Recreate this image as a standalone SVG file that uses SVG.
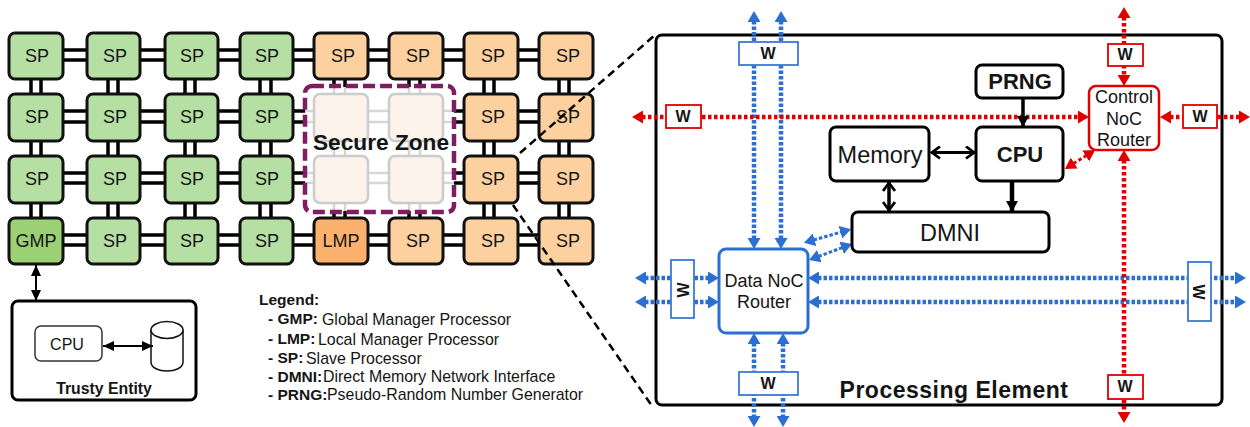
<svg xmlns="http://www.w3.org/2000/svg" width="1250" height="427" viewBox="0 0 1250 427">
<style>
text{font-family:"Liberation Sans",Arial,sans-serif;fill:#151515;text-anchor:middle}
.b{font-weight:bold}
.n{stroke:#111;stroke-width:3;}
.g{fill:#b6dfa4}.o{fill:#fdd0a0}.z{fill:#fdf3ea;stroke:#ccc;stroke-width:2.5}
.sp{font-size:18px}
.k{stroke:#000;stroke-width:3.5;fill:none}
.f{stroke:#d6d6d6;stroke-width:2.5;fill:none}
.box{fill:#fff;stroke:#000;stroke-width:3}
.bw{fill:#fff;stroke:#3b7ad0;stroke-width:1.8}
.rw{fill:#fff;stroke:#e00000;stroke-width:1.8}
.w{font-size:16px;font-weight:bold}
.bl{stroke:#2b6fd2;stroke-width:4.5;stroke-dasharray:3.5 2;fill:none;marker-start:url(#mb);marker-end:url(#mb)}
.rd{stroke:#e00000;stroke-width:4.5;stroke-dasharray:3.5 2.5;fill:none;marker-start:url(#mr);marker-end:url(#mr)}
.blk{stroke:#000;stroke-width:3;fill:none}
.dash{stroke:#000;stroke-width:2.5;stroke-dasharray:8 5;fill:none}
.leg{font-size:15.9px;text-anchor:start}
.lb{font-size:15.5px;text-anchor:start;font-weight:bold}
</style>
<defs>
<marker id="mb" markerUnits="userSpaceOnUse" markerWidth="13" markerHeight="13" refX="1" refY="6.5" orient="auto-start-reverse"><path d="M0 0L11 6.5L0 13z" fill="#2b6fd2"/></marker>
<marker id="mr" markerUnits="userSpaceOnUse" markerWidth="13" markerHeight="13" refX="1" refY="6.5" orient="auto-start-reverse"><path d="M0 0L11 6.5L0 13z" fill="#e00000"/></marker>
<marker id="mk" markerUnits="userSpaceOnUse" markerWidth="14" markerHeight="14" refX="12" refY="7" orient="auto-start-reverse"><path d="M3 1L11 7L3 13" fill="none" stroke="#000" stroke-width="2.8"/></marker>
<marker id="ms" markerUnits="userSpaceOnUse" markerWidth="12" markerHeight="12" refX="11" refY="6" orient="auto-start-reverse"><path d="M0 1L11 6L0 11z" fill="#000"/></marker>
<marker id="md" markerUnits="userSpaceOnUse" markerWidth="14" markerHeight="14" refX="12" refY="7" orient="auto"><path d="M1 1L12 7L1 13z" fill="#000"/></marker>
</defs>

<g id="mesh-connectors">
<path class="k" d="M63 50H87M63 60H87M140 50H165M140 60H165M218 50H240M218 60H240M293 50H314M293 60H314M368 50H389M368 60H389M443 50H464M443 60H464M518 50H539M518 60H539"/>
<path class="k" d="M63 111H87M63 122H87M140 111H165M140 122H165M218 111H240M218 122H240M293 111H305M293 122H305M454 111H464M454 122H464M518 111H539M518 122H539"/>
<path class="k" d="M63 173H87M63 183H87M140 173H165M140 183H165M218 173H240M218 183H240M293 173H305M293 183H305M454 173H464M454 183H464M518 173H539M518 183H539"/>
<path class="k" d="M63 235H87M63 245H87M140 235H165M140 245H165M218 235H240M218 245H240M293 235H314M293 245H314M368 235H389M368 245H389M443 235H464M443 245H464M518 235H539M518 245H539"/>
<path class="k" d="M31 79V94M41 79V94M108 79V94M118 79V94M185 79V94M195 79V94M260 79V94M271 79V94M484 79V94M494 79V94M559 79V94M569 79V94"/>
<path class="k" d="M31 141V156M41 141V156M108 141V156M118 141V156M185 141V156M195 141V156M260 141V156M271 141V156M484 141V156M494 141V156M559 141V156M569 141V156"/>
<path class="k" d="M31 203V218M41 203V218M108 203V218M118 203V218M185 203V218M195 203V218M260 203V218M271 203V218M484 203V218M494 203V218M559 203V218M569 203V218"/>
<path class="k" d="M334 79V87M345 79V87M409 79V87M420 79V87M334 211V218M345 211V218M409 211V218M420 211V218"/>
<path class="f" d="M305 111H314M305 122H314M368 111H389M368 122H389M443 111H454M443 122H454M305 173H314M305 183H314M368 173H389M368 183H389M443 173H454M443 183H454M334 87V94M345 87V94M409 87V94M420 87V94M334 141V156M345 141V156M409 141V156M420 141V156M334 203V211M345 203V211M409 203V211M420 203V211"/>
<path d="M36 265V301" fill="none" stroke="#000" stroke-width="2" marker-start="url(#ms)" marker-end="url(#ms)"/>
</g>

<g id="sp-0-0"><rect class="n g" x="9" y="33" width="54" height="46" rx="6"/><text class="sp" x="37" y="62">SP</text></g>
<g id="sp-1-0"><rect class="n g" x="87" y="33" width="53" height="46" rx="6"/><text class="sp" x="115" y="62">SP</text></g>
<g id="sp-2-0"><rect class="n g" x="165" y="33" width="53" height="46" rx="6"/><text class="sp" x="192" y="62">SP</text></g>
<g id="sp-3-0"><rect class="n g" x="240" y="33" width="53" height="46" rx="6"/><text class="sp" x="267" y="62">SP</text></g>
<g id="sp-4-0"><rect class="n o" x="314" y="33" width="54" height="46" rx="6"/><text class="sp" x="343" y="62">SP</text></g>
<g id="sp-5-0"><rect class="n o" x="389" y="33" width="54" height="46" rx="6"/><text class="sp" x="418" y="62">SP</text></g>
<g id="sp-6-0"><rect class="n o" x="464" y="33" width="54" height="46" rx="6"/><text class="sp" x="493" y="62">SP</text></g>
<g id="sp-7-0"><rect class="n o" x="539" y="33" width="54" height="46" rx="6"/><text class="sp" x="568" y="62">SP</text></g>

<g id="sp-0-1"><rect class="n g" x="9" y="94" width="54" height="47" rx="6"/><text class="sp" x="37" y="123">SP</text></g>
<g id="sp-1-1"><rect class="n g" x="87" y="94" width="53" height="47" rx="6"/><text class="sp" x="115" y="123">SP</text></g>
<g id="sp-2-1"><rect class="n g" x="165" y="94" width="53" height="47" rx="6"/><text class="sp" x="192" y="123">SP</text></g>
<g id="sp-3-1"><rect class="n g" x="240" y="94" width="53" height="47" rx="6"/><text class="sp" x="267" y="123">SP</text></g>
<g id="zone-node-0"><rect class="z" x="314" y="94" width="54" height="47" rx="6"/></g>
<g id="zone-node-1"><rect class="z" x="389" y="94" width="54" height="47" rx="6"/></g>
<g id="sp-6-1"><rect class="n o" x="464" y="94" width="54" height="47" rx="6"/><text class="sp" x="493" y="123">SP</text></g>
<g id="sp-7-1"><rect class="n o" x="539" y="94" width="54" height="47" rx="6"/><text class="sp" x="568" y="123">SP</text></g>

<g id="sp-0-2"><rect class="n g" x="9" y="156" width="54" height="47" rx="6"/><text class="sp" x="37" y="185">SP</text></g>
<g id="sp-1-2"><rect class="n g" x="87" y="156" width="53" height="47" rx="6"/><text class="sp" x="115" y="185">SP</text></g>
<g id="sp-2-2"><rect class="n g" x="165" y="156" width="53" height="47" rx="6"/><text class="sp" x="192" y="185">SP</text></g>
<g id="sp-3-2"><rect class="n g" x="240" y="156" width="53" height="47" rx="6"/><text class="sp" x="267" y="185">SP</text></g>
<g id="zone-node-2"><rect class="z" x="314" y="156" width="54" height="47" rx="6"/></g>
<g id="zone-node-3"><rect class="z" x="389" y="156" width="54" height="47" rx="6"/></g>
<g id="sp-6-2"><rect class="n o" x="464" y="156" width="54" height="47" rx="6"/><text class="sp" x="493" y="185">SP</text></g>
<g id="sp-7-2"><rect class="n o" x="539" y="156" width="54" height="47" rx="6"/><text class="sp" x="568" y="185">SP</text></g>

<g id="gmp"><rect class="n" fill="#9bd075" x="9" y="218" width="54" height="46" rx="6"/><text class="sp" x="36" y="247">GMP</text></g>
<g id="sp-1-3"><rect class="n g" x="87" y="218" width="53" height="46" rx="6"/><text class="sp" x="115" y="247">SP</text></g>
<g id="sp-2-3"><rect class="n g" x="165" y="218" width="53" height="46" rx="6"/><text class="sp" x="192" y="247">SP</text></g>
<g id="sp-3-3"><rect class="n g" x="240" y="218" width="53" height="46" rx="6"/><text class="sp" x="267" y="247">SP</text></g>
<g id="lmp"><rect class="n" fill="#fdb16e" x="314" y="218" width="54" height="46" rx="6"/><text class="sp" x="341" y="247">LMP</text></g>
<g id="sp-5-3"><rect class="n o" x="389" y="218" width="54" height="46" rx="6"/><text class="sp" x="418" y="247">SP</text></g>
<g id="sp-6-3"><rect class="n o" x="464" y="218" width="54" height="46" rx="6"/><text class="sp" x="493" y="247">SP</text></g>
<g id="sp-7-3"><rect class="n o" x="539" y="218" width="54" height="46" rx="6"/><text class="sp" x="568" y="247">SP</text></g>

<g id="secure-zone">
<rect x="305" y="86" width="149" height="126" rx="7" fill="none" stroke="#7f1d63" stroke-width="4.5" stroke-dasharray="12 5"/>
<text class="b" x="381" y="150" font-size="22.7px">Secure Zone</text>
</g>

<g id="zoom-lines">
<path class="dash" d="M520 153L655 35"/>
<path class="dash" d="M513 205L652 406"/>
</g>

<g id="trusty-entity">
<rect class="box" x="12" y="301" width="184" height="99" rx="6"/>
<text class="b" x="104" y="394" font-size="15.8px">Trusty Entity</text>
</g>
<g id="trusty-cpu"><rect x="35" y="326" width="67" height="35" rx="6" fill="#fff" stroke="#333" stroke-width="1.5"/><text x="67" y="350" font-size="16px">CPU</text></g>
<g id="trusty-storage"><path d="M151 330V362C151 374 183 374 183 362V330" fill="#fff" stroke="#111" stroke-width="1.5"/><ellipse cx="167" cy="330" rx="16" ry="8.5" fill="#fff" stroke="#111" stroke-width="1.5"/></g>
<g id="trusty-connector"><path d="M103 346H153" fill="none" stroke="#000" stroke-width="2" marker-start="url(#ms)" marker-end="url(#ms)"/></g>

<g id="legend">
<text class="lb" x="259" y="305">Legend:</text>
<text class="lb" x="268" y="324">- GMP:</text><text class="leg" x="322" y="325">Global Manager Processor</text>
<text class="lb" x="268" y="344">- LMP:</text><text class="leg" x="318" y="345">Local Manager Processor</text>
<text class="lb" x="268" y="363">- SP:</text><text class="leg" x="306" y="364">Slave Processor</text>
<text class="lb" x="268" y="382">- DMNI:</text><text class="leg" x="323" y="382">Direct Memory Network Interface</text>
<text class="lb" x="268" y="400">- PRNG:</text><text class="leg" x="327" y="400">Pseudo-Random Number Generator</text>
</g>

<g id="processing-element">
<rect class="box" x="656" y="35" width="566" height="370" rx="6"/>
<text class="b" x="954" y="398" font-size="23px" letter-spacing=".5">Processing Element</text>
</g>

<g id="connectors">
<path class="bl" d="M754 21V239"/><path class="bl" d="M781 21V239"/>
<path class="bl" d="M754 343V417"/><path class="bl" d="M783 343V417"/>
<path class="bl" d="M645 278H709"/><path class="bl" d="M645 302H709"/>
<path class="bl" d="M818 278H1236"/><path class="bl" d="M818 302H1236"/>
<path class="bl" style="stroke-width:3" d="M813.6 240L841.4 232"/><path class="bl" style="stroke-width:3" d="M818.4 256.5L842.6 247.5"/>
<path class="rd" d="M642 117H1079"/><path class="rd" d="M1170 117H1240"/>
<path class="rd" d="M1124 17V76"/><path class="rd" d="M1124 160V413"/>
<path class="rd" style="stroke-width:3" d="M1073.4 163.6L1086.6 155.4"/>
<path class="blk" style="stroke-width:3.5" d="M1023 98V127" marker-end="url(#md)"/>
<path class="blk" style="stroke-width:4.5" d="M1012 181V212" marker-end="url(#md)"/>
<path class="blk" d="M931 152.5H975" marker-start="url(#mk)" marker-end="url(#mk)"/>
<path class="blk" style="stroke-width:3.5" d="M889 182V211" marker-start="url(#mk)" marker-end="url(#mk)"/>
</g>

<g id="memory"><rect class="box" x="830" y="127" width="99" height="54" rx="6"/><text x="880" y="163" font-size="23.5px">Memory</text></g>
<g id="prng"><rect class="box" x="976" y="65" width="87" height="33" rx="6"/><text class="b" x="1020" y="89" font-size="22px">PRNG</text></g>
<g id="cpu"><rect class="box" x="976" y="127" width="87" height="54" rx="6"/><text class="b" x="1020" y="162" font-size="22px">CPU</text></g>
<g id="dmni"><rect class="box" x="852" y="212" width="197" height="40" rx="6"/><text x="950" y="241" font-size="23.5px">DMNI</text></g>
<g id="control-router"><rect x="1089" y="86" width="70" height="64" rx="7" fill="#fff" stroke="#e00000" stroke-width="2.5"/><text x="1124" y="103" font-size="18px">Control</text><text x="1124" y="125" font-size="18px">NoC</text><text x="1124" y="146" font-size="18px">Router</text></g>
<g id="data-router"><rect x="719" y="249" width="89" height="84" rx="7" fill="#fff" stroke="#2b6fd2" stroke-width="3"/><text x="764" y="287" font-size="18px">Data NoC</text><text x="764" y="308" font-size="18px">Router</text></g>

<g id="w-data-top"><rect class="bw" x="739" y="42" width="59" height="23"/><text class="w" x="768" y="59">W</text></g>
<g id="w-data-bottom"><rect class="bw" x="739" y="372" width="59" height="23"/><text class="w" x="768" y="389">W</text></g>
<g id="w-data-left"><rect class="bw" x="671" y="260" width="23" height="58"/><text class="w" transform="translate(689 290) rotate(-90)" x="0" y="0">W</text></g>
<g id="w-data-right"><rect class="bw" x="1188" y="262" width="23" height="59"/><text class="w" transform="translate(1193 292) rotate(90)" x="0" y="0">W</text></g>
<g id="w-ctrl-left"><rect class="rw" x="666" y="105" width="35" height="23"/><text class="w" x="683" y="122">W</text></g>
<g id="w-ctrl-right"><rect class="rw" x="1183" y="105" width="34" height="23"/><text class="w" x="1200" y="122">W</text></g>
<g id="w-ctrl-top"><rect class="rw" x="1108" y="44" width="35" height="22"/><text class="w" x="1125" y="60">W</text></g>
<g id="w-ctrl-bottom"><rect class="rw" x="1108" y="375" width="35" height="24"/><text class="w" x="1125" y="392">W</text></g>
</svg>
